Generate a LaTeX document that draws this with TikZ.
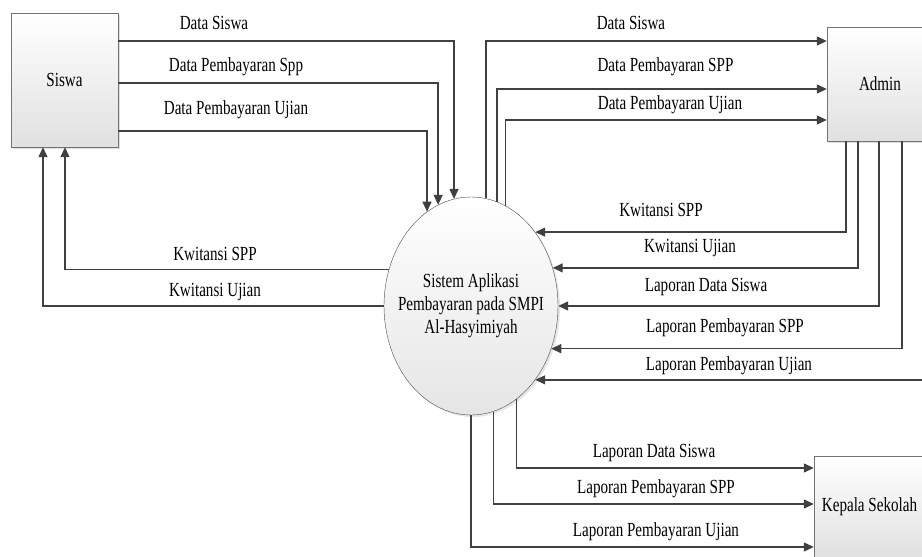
\documentclass[tikz,border=0pt]{standalone}
\usepackage{fontspec}
\setmainfont{Liberation Serif}[FakeStretch=0.755]
\usetikzlibrary{arrows.meta,shapes.geometric,shadows}

\begin{document}
\begin{tikzpicture}[x=1pt,y=-1pt,
		font=\fontsize{20}{23}\selectfont,
		entity/.style={rectangle, draw=black!55, top color=white, bottom color=black!12, inner sep=0pt,
			drop shadow={shadow xshift=2pt, shadow yshift=-2pt, opacity=.25}},
		process/.style={ellipse, draw=black!70, top color=white, bottom color=black!10, inner sep=0pt,
			minimum width=174pt, minimum height=218pt,
			drop shadow={shadow xshift=2pt, shadow yshift=-2pt, opacity=.2}},
		flow/.style={draw=black!75, line width=1.3pt, -{Triangle[length=10pt,width=9pt]}},
		lbl/.style={inner sep=0pt},
		hv/.style={to path={-| (\tikztotarget)}},
		vh/.style={to path={|- (\tikztotarget)}}]
		\useasboundingbox (0,0) rectangle (922,557);

		\draw (64.5,80) node [entity, minimum width=107pt, minimum height=134pt] (siswa) {Siswa};
		\draw (880,84) node [entity, minimum width=106pt, minimum height=114pt] (admin) {Admin};
		\draw (869.5,507) node [entity, minimum width=111pt, minimum height=102pt] (kepala) {Kepala Sekolah};
		\draw (471,306) node [process] (sys) {};
		\draw (sys) node [align=center] (systext) {Sistem Aplikasi\\Pembayaran pada SMPI\\Al-Hasyimiyah};

		% siswa <-> sistem
		\path
		([yshift=39pt]siswa.east) edge[flow, hv] (sys.99.6)
		([yshift=-3pt]siswa.east) edge[flow, hv] (sys.108.7)
		([yshift=-51pt]siswa.east) edge[flow, hv] (sys.115.8)
		(sys.156.3) edge[flow, hv] ([xshift=0.5pt]siswa.south)
		(sys.180) edge[flow, hv] ([xshift=-21.5pt]siswa.south);

		% sistem <-> admin
		\path
		(sys.82.6) edge[flow, vh] ([yshift=43pt]admin.west)
		(sys.76.5) edge[flow, vh] ([yshift=-5pt]admin.west)
		(sys.71.3) edge[flow, vh] ([yshift=-36pt]admin.west)
		([xshift=-34pt]admin.south) edge[flow, vh] (sys.49.9)
		([xshift=-22pt]admin.south) edge[flow, vh] (sys.25.7)
		([xshift=-1pt]admin.south) edge[flow, vh] (sys.0)
		([xshift=22pt]admin.south) edge[flow, vh] (sys.-28.3)
		([xshift=44pt]admin.south) edge[flow, vh] (sys.-49.2);

		% sistem -> kepala sekolah
		\path
		(sys.-64.9) edge[flow, vh] ([yshift=39pt]kepala.west)
		(sys.-78.8) edge[flow, vh] ([yshift=3pt]kepala.west)
		(sys.-90) edge[flow, vh] ([yshift=-40pt]kepala.west);

		\draw (214,23) node [lbl] (l1) {Data Siswa};
		\draw (236,67) node [lbl] (l2) {Data Pembayaran Spp};
		\draw (236,110) node [lbl] (l3) {Data Pembayaran Ujian};
		\draw (215,254) node [lbl] (l4) {Kwitansi SPP};
		\draw (215,292) node [lbl] (l5) {Kwitansi Ujian};
		\draw (631,23) node [lbl] (l6) {Data Siswa};
		\draw (665.5,67) node [lbl] (l7) {Data Pembayaran SPP};
		\draw (670,105) node [lbl] (l8) {Data Pembayaran Ujian};
		\draw (661,210) node [lbl] (l9) {Kwitansi SPP};
		\draw (690,248) node [lbl] (l10) {Kwitansi Ujian};
		\draw (706,287) node [lbl] (l11) {Laporan Data Siswa};
		\draw (725,328) node [lbl] (l12) {Laporan Pembayaran SPP};
		\draw (729,366) node [lbl] (l13) {Laporan Pembayaran Ujian};
		\draw (654,453) node [lbl] (l14) {Laporan Data Siswa};
		\draw (656,489) node [lbl] (l15) {Laporan Pembayaran SPP};
		\draw (656,532) node [lbl] (l16) {Laporan Pembayaran Ujian};
	\end{tikzpicture}
\end{document}
